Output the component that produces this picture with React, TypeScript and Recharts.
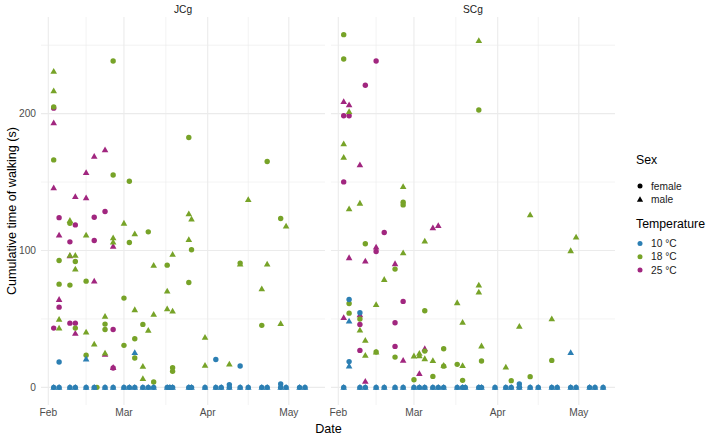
import React from 'react';
import { ScatterChart, Scatter, XAxis, YAxis, ReferenceLine } from 'recharts';

// days counted from 1 Feb; values in seconds
const monthTicks = [0, 28, 59, 89];
const monthLabels = ['Feb', 'Mar', 'Apr', 'May'];
const minorX = [14, 43.5, 74];
const yTicks = [0, 100, 200];
const minorY = [50, 150, 250];

const tempLabels = ['10 °C', '18 °C', '25 °C'];
const sexLabels = ['female', 'male'];

// JCg
const jcgF10 = [[2, 0], [4, 0], [8, 0], [10, 0], [14, 0], [17, 0], [21, 0], [24, 0], [28, 0], [30, 0], [32, 0], [35, 0], [37, 0], [39, 0], [44, 0], [45, 0], [46, 0], [52, 0], [53, 0], [58, 0], [62, 0], [64, 0], [67, 0], [71, 0], [74, 0], [79, 0], [81, 0], [86, 0], [88, 0], [93, 0], [95, 0],
  [4, 18.5], [62, 20.4], [71, 15.6], [67, 2], [86, 2.5]];
const jcgM10 = [[2, 0], [4, 0], [8, 0], [10, 0], [14, 0], [17, 0], [21, 0], [24, 0], [28, 0], [30, 0], [32, 0], [35, 0], [37, 0], [39, 0], [44, 0], [45, 0], [46, 0], [52, 0], [53, 0], [58, 0], [62, 0], [64, 0], [67, 0], [71, 0], [74, 0], [79, 0], [81, 0], [86, 0], [88, 0], [93, 0], [95, 0],
  [14, 20.7], [32, 25.3]];
const jcgF18 = [[24, 238.5], [2, 204.9], [52, 182.5], [2, 166.2], [81, 165], [24, 155.2], [30, 150.6], [86, 123.4], [8, 119.9], [30, 105.8], [37, 113.6], [53, 100.5], [4, 92.7], [10, 92], [44, 89.3], [71, 90.8], [4, 75.4], [8, 74.7], [14, 77.6], [52, 76.6], [28, 65.2], [10, 43.3], [21, 46.2], [21, 42.3], [35, 46], [32, 35.5], [28, 30.7], [79, 45.3], [14, 23.4], [32, 21.4], [46, 14.4], [46, 11.7], [39, 3.9], [18, 0]];
const jcgM18 = [[2, 230.9], [2, 216.6], [74, 137.2], [52, 126.8], [53, 122.9], [8, 121.9], [88, 117.8], [14, 111.2], [28, 119.9], [32, 112.2], [24, 109.2], [24, 106.1], [52, 108], [46, 97.1], [8, 96.4], [10, 96.4], [10, 86.4], [39, 89.1], [71, 90], [81, 90], [44, 70.3], [79, 72], [32, 56.7], [44, 57.4], [46, 55.7], [39, 53.3], [4, 49.6], [4, 43.3], [21, 51.8], [37, 41.6], [14, 40.4], [17, 31.6], [86, 46.5], [58, 36.5], [21, 25], [35, 15.3], [58, 16.1], [67, 17], [35, 6.3]];
const jcgF25 = [[2, 204], [21, 128.5], [4, 124], [17, 124.3], [10, 118.7], [8, 106.3], [17, 107.3], [4, 58.6], [2, 43.3], [8, 46.9], [10, 46.9], [24, 42.3], [24, 14.1]];
const jcgM25 = [[2, 193.2], [17, 168.8], [21, 173.5], [14, 156.9], [2, 145.8], [10, 139.4], [14, 138.5], [4, 111.2], [24, 103.1], [17, 77.6], [4, 64.2], [8, 96], [10, 39.4], [21, 24.1], [24, 14.5]];

// SCg
const scgF10 = [[2, 0], [8, 0], [10, 0], [14, 0], [17, 0], [21, 0], [24, 0], [28, 0], [30, 0], [32, 0], [35, 0], [37, 0], [39, 0], [44, 0], [46, 0], [47, 0], [52, 0], [53, 0], [58, 0], [62, 0], [64, 0], [67, 0], [71, 0], [74, 0], [79, 0], [81, 0], [86, 0], [88, 0], [93, 0], [95, 0], [98, 0],
  [4, 64.2], [8, 54.5], [4, 18.8], [67, 2.5]];
const scgM10 = [[2, 0], [8, 0], [10, 0], [14, 0], [17, 0], [21, 0], [24, 0], [28, 0], [30, 0], [32, 0], [35, 0], [37, 0], [39, 0], [44, 0], [46, 0], [47, 0], [52, 0], [53, 0], [58, 0], [62, 0], [64, 0], [67, 0], [71, 0], [74, 0], [79, 0], [81, 0], [86, 0], [88, 0], [93, 0], [95, 0], [98, 0],
  [4, 48.4], [4, 15.6], [86, 25.3], [67, 1.5]];
const scgF18 = [[2, 257.7], [2, 239.9], [52, 202.7], [24, 135.3], [24, 133.3], [10, 104.9], [21, 86.4], [4, 61.3], [4, 54.2], [32, 56], [8, 49.9], [14, 25.8], [21, 22.1], [32, 26.5], [39, 28.2], [39, 15.5], [44, 16.8], [53, 19.2], [79, 19.7], [35, 8], [28, 5.6], [46, 5.1], [64, 4.9], [71, 7.8]];
const scgM18 = [[52, 253.3], [4, 201.5], [2, 177.9], [2, 168.1], [24, 146.7], [8, 134.5], [4, 130.4], [71, 126], [32, 106.8], [88, 109.7], [86, 99.8], [24, 98.3], [17, 78.8], [52, 74.7], [52, 69.6], [44, 61.8], [14, 60.4], [46, 47.4], [79, 50.1], [67, 44.5], [8, 41.8], [10, 34.3], [10, 23.4], [14, 25.8], [28, 22.9], [30, 24.8], [30, 23.1], [32, 20.9], [35, 19.5], [39, 16.1], [46, 15.8], [53, 30.2], [62, 14.8]];
const scgF25 = [[14, 238.5], [10, 220.7], [2, 198.5], [4, 198.5], [2, 150.1], [17, 113.1], [14, 99.3], [24, 62.8], [8, 46], [21, 47.2], [8, 27], [21, 29.9]];
const scgM25 = [[2, 208.8], [4, 206.4], [8, 162.5], [35, 116.5], [37, 118.2], [14, 102.4], [4, 94.7], [10, 92.2], [21, 90.3], [2, 50.9], [8, 53], [32, 28.2], [24, 19.7], [30, 10], [10, 4.4]];

const COLORS = ['#2C7FB3', '#77A328', '#A1267F'];
const GRID = '#EBEBEB';
const FONT = '"Liberation Sans", Arial, sans-serif';

const toPts = (arr: number[][]) => arr.map(([x, y]) => ({ x, y }));

const circle = (fill: string) => (p: any) => (
  <circle cx={p.cx} cy={p.cy} r={2.7} fill={fill} />
);
const triangle = (fill: string) => (p: any) => (
  <path d={`M${p.cx},${p.cy - 3.4} L${p.cx + 3.3},${p.cy + 2.4} L${p.cx - 3.3},${p.cy + 2.4} Z`} fill={fill} />
);

// both facets use the same layout: 41px y-axis column + 284px panel
const Panel = ({ series, showY }: { series: number[][][]; showY: boolean }) => {
  // series order: F10, M10, F18, M18, F25, M25
  const order = [4, 5, 2, 3, 0, 1];
  return (
    <ScatterChart width={325} height={437} margin={{ top: 17, right: 0, bottom: 0, left: 0 }}>
      <XAxis
        type="number"
        dataKey="x"
        domain={[-2.7, 102.4]}
        allowDataOverflow
        ticks={monthTicks}
        interval={0}
        tickFormatter={(v: number) => monthLabels[monthTicks.indexOf(v)]}
        axisLine={false}
        tickLine={false}
        tickSize={0}
        tickMargin={4}
        height={32}
        tick={{ fill: '#4D4D4D', fontSize: 10.2, fontFamily: FONT }}
      />
      <YAxis
        type="number"
        dataKey="y"
        domain={[-12.9, 270.6]}
        allowDataOverflow
        ticks={yTicks}
        interval={0}
        axisLine={false}
        tickLine={false}
        tickSize={0}
        tickMargin={5}
        width={41}
        tick={showY ? { fill: '#4D4D4D', fontSize: 10.2, fontFamily: FONT } : false}
      />
      {minorY.map((v) => <ReferenceLine key={'my' + v} y={v} stroke={GRID} strokeWidth={0.6} />)}
      {minorX.map((v) => <ReferenceLine key={'mx' + v} x={v} stroke={GRID} strokeWidth={0.6} />)}
      {yTicks.map((v) => <ReferenceLine key={'y' + v} y={v} stroke={GRID} strokeWidth={1.1} />)}
      {monthTicks.map((v) => <ReferenceLine key={'x' + v} x={v} stroke={GRID} strokeWidth={1.1} />)}
      {order.map((i) => {
        const col = COLORS[Math.floor(i / 2)];
        return (
          <Scatter
            key={i}
            data={toPts(series[i])}
            fill={col}
            shape={i % 2 === 0 ? circle(col) : triangle(col)}
            isAnimationActive={false}
          />
        );
      })}
    </ScatterChart>
  );
};

export default function App() {
  return (
    <div style={{ position: 'absolute', left: 0, top: 0, width: 708, height: 437, background: '#fff', fontFamily: FONT }}>
      <div style={{ position: 'absolute', left: 0, top: 0 }}>
        <Panel series={[jcgF10, jcgM10, jcgF18, jcgM18, jcgF25, jcgM25]} showY />
      </div>
      <div style={{ position: 'absolute', left: 290, top: 0 }}>
        <Panel series={[scgF10, scgM10, scgF18, scgM18, scgF25, scgM25]} showY={false} />
      </div>
      <svg width={708} height={437} style={{ position: 'absolute', left: 0, top: 0, pointerEvents: 'none' }} fontFamily={FONT}>
        <text x={183} y={9} textAnchor="middle" dominantBaseline="central" fontSize={10.2} fill="#1A1A1A">JCg</text>
        <text x={473} y={9} textAnchor="middle" dominantBaseline="central" fontSize={10.2} fill="#1A1A1A">SCg</text>
        <text x={328.5} y={429} textAnchor="middle" dominantBaseline="central" fontSize={12.6} fill="#000">Date</text>
        <text transform="translate(12,211) rotate(-90)" textAnchor="middle" dominantBaseline="central" fontSize={12.6} fill="#000">
          Cumulative time of walking (s)
        </text>
        <text x={636} y={160} dominantBaseline="central" fontSize={12.3} fill="#000">Sex</text>
        <circle cx={640} cy={186} r={2.5} fill="#000" />
        <text x={651} y={186} dominantBaseline="central" fontSize={10.2} fill="#1A1A1A">{sexLabels[0]}</text>
        <path d="M640,196.3 L643.1,201.7 L636.9,201.7 Z" fill="#000" />
        <text x={651} y={199.5} dominantBaseline="central" fontSize={10.2} fill="#1A1A1A">{sexLabels[1]}</text>
        <text x={636} y={224} dominantBaseline="central" fontSize={12.3} fill="#000">Temperature</text>
        {tempLabels.map((t, i) => (
          <g key={t}>
            <circle cx={640} cy={243.5 + i * 13.3} r={2.5} fill={COLORS[i]} />
            <text x={651} y={243.5 + i * 13.3} dominantBaseline="central" fontSize={10.2} fill="#1A1A1A">{t}</text>
          </g>
        ))}
      </svg>
    </div>
  );
}
